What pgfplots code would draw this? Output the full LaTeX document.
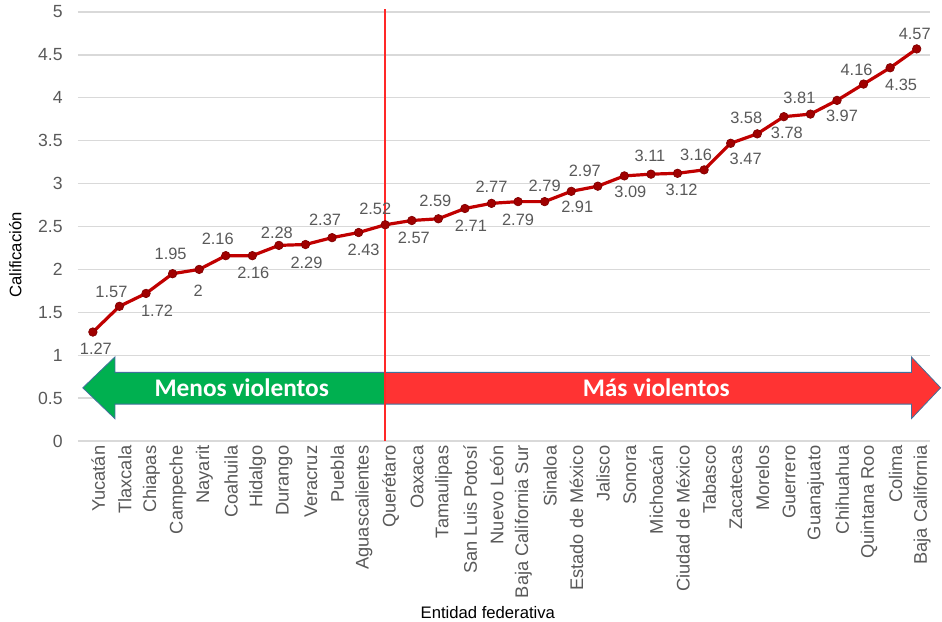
\documentclass[border=0pt]{standalone}
\usepackage{pgfplots}
\pgfplotsset{compat=1.18}
\usepackage{pgfplotstable}
\usepackage{fontspec}
\setmainfont{Liberation Sans}
\newfontfamily\calibri{Carlito}
\definecolor{tickgray}{HTML}{595959}
\definecolor{gridgray}{HTML}{D9D9D9}
\definecolor{linered}{HTML}{C00000}
\definecolor{markred}{HTML}{A00000}
\definecolor{arrgreen}{HTML}{00B050}
\definecolor{arrred}{HTML}{FF3333}
\definecolor{arredge}{HTML}{41719C}
\definecolor{vlinecol}{RGB}{255,40,40}

% dx, dy: label offsets in px (dy positive = downwards)
\pgfplotstableread{
x y dx dy
0 1.27 3 17
1 1.57 -8 -14
2 1.72 11 17
3 1.95 -2 -20
4 2 -1 21
5 2.16 -8 -17
6 2.16 1 17
7 2.28 -2 -13
8 2.29 1 18
9 2.37 -7 -18
10 2.43 5 17
11 2.52 -10 -16
12 2.57 2 17
13 2.59 -3 -18
14 2.71 6 17
15 2.77 0 -17
16 2.79 0 18
17 2.79 0 -16
18 2.91 6 16
19 2.97 -13 -15
20 3.09 6 16
21 3.11 -1 -18
22 3.12 4 17
23 3.16 -8 -15
24 3.47 15 16
25 3.58 -11 -16
26 3.78 3 16
27 3.81 -11 -16
28 3.97 5 15
29 4.16 -7 -14
30 4.35 11 17
31 4.57 -2 -15
}\datatable

\begin{document}
\begin{tikzpicture}
\begin{axis}[
  at={(0,0)}, anchor=south west,
  scale only axis, width=639pt, height=321.75pt,
  xmin=-0.56, xmax=31.5, ymin=0, ymax=5,
  ytick={0,0.5,1,1.5,2,2.5,3,3.5,4,4.5,5},
  xtick={0,...,31},
  xticklabels={Yucatán,Tlaxcala,Chiapas,Campeche,Nayarit,Coahuila,Hidalgo,Durango,Veracruz,Puebla,Aguascalientes,Querétaro,Oaxaca,Tamaulipas,San Luis Potosí,Nuevo León,Baja California Sur,Sinaloa,Estado de México,Jalisco,Sonora,Michoacán,Ciudad de México,Tabasco,Zacatecas,Morelos,Guerrero,Guanajuato,Chihuahua,Quintana Roo,Colima,Baja California},
  ymajorgrids, grid style={draw=gridgray, line width=1pt},
  axis line style={draw=none}, major tick style={draw=none}, major tick length=0pt,
  /pgf/number format/assume math mode=true,
  x tick label style={rotate=90, anchor=east, font=\fontsize{13.7}{15}\selectfont, text=tickgray, yshift=-4pt},
  y tick label style={anchor=east, font=\fontsize{13.2}{15}\selectfont, text=tickgray, xshift=-8pt},
  xlabel={Entidad federativa},
  xlabel style={at={(axis description cs:0.481,-0.40)}, anchor=center, font=\fontsize{12.5}{14}\selectfont},
  ylabel={Calificación},
  ylabel style={at={(axis description cs:-0.0736,0.434)}, anchor=center, font=\fontsize{12.5}{14}\selectfont},
  clip=false,
]
% arrows
\filldraw[fill=arrgreen, draw=arredge, line width=0.6pt]
  (axis cs:-0.38,0.62) -- (axis cs:0.83,0.98) -- (axis cs:0.83,0.80) -- (axis cs:11,0.80)
  -- (axis cs:11,0.43) -- (axis cs:0.83,0.43) -- (axis cs:0.83,0.26) -- cycle;
\filldraw[fill=arrred, draw=arredge, line width=0.6pt]
  (axis cs:11,0.80) -- (axis cs:30.8,0.80) -- (axis cs:30.8,0.98) -- (axis cs:31.9,0.62)
  -- (axis cs:30.8,0.26) -- (axis cs:30.8,0.43) -- (axis cs:11,0.43) -- cycle;
\node[text=white, font=\calibri\bfseries\fontsize{19}{22}\selectfont] at (axis cs:5.6,0.62) {Menos violentos};
\node[text=white, font=\calibri\bfseries\fontsize{19}{22}\selectfont] at (axis cs:21.2,0.62) {Más violentos};
\addplot[draw=vlinecol, line width=1.3pt, mark=none, forget plot] coordinates {(11,0) (11,5.03)};
\addplot[linered, line width=2.4pt, mark=*, mark size=3.2pt,
  mark options={fill=markred, draw=markred!80!black, line width=0.5pt}]
  table[x=x, y=y] {\datatable};
\addplot[draw=none, nodes near coords,
  visualization depends on={\thisrow{dx} \as \mydx},
  visualization depends on={\thisrow{dy} \as \mydy},
  every node near coord/.append style={anchor=center, inner sep=0pt,
    xshift=\mydx*0.75pt, yshift=-\mydy*0.75pt,
    font=\fontsize{12.3}{14}\selectfont, text=tickgray,
    /pgf/number format/assume math mode=true}]
  table[x=x, y=y] {\datatable};
\end{axis}
\pgfresetboundingbox
\path (-58.5pt,-135pt) rectangle (648pt,330.75pt);
\end{tikzpicture}
\end{document}
